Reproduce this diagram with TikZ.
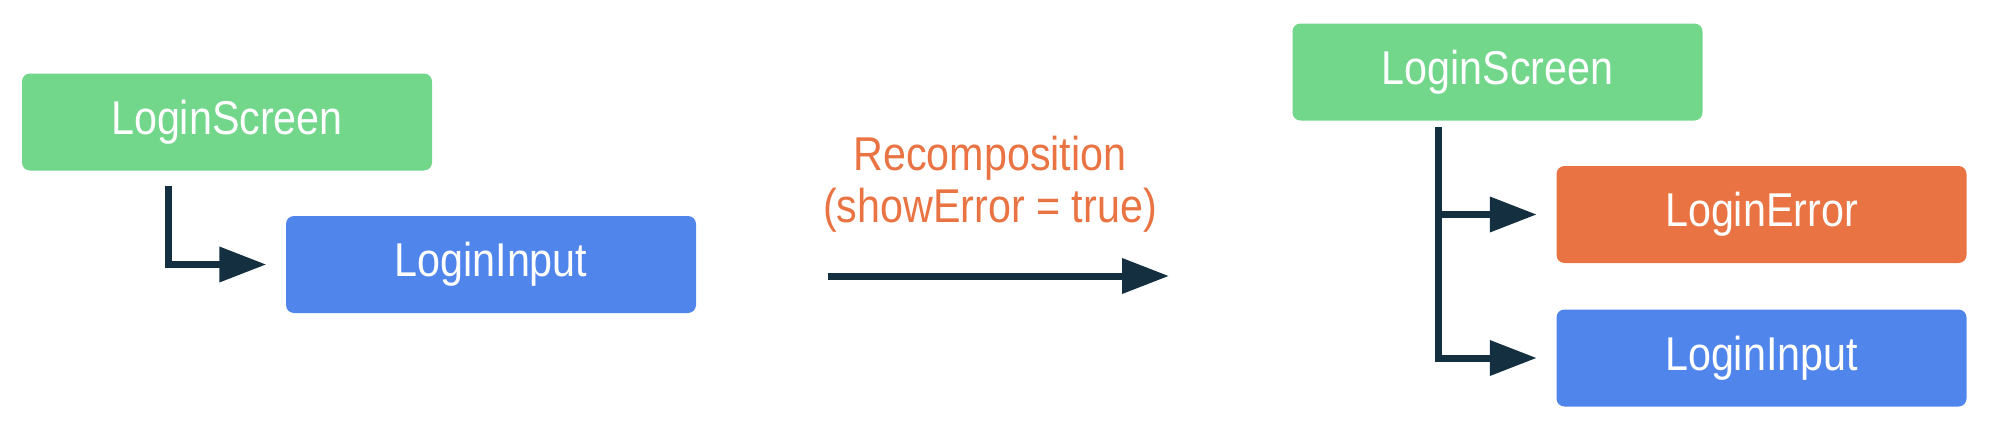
\documentclass[tikz,border=0pt]{standalone}
\usepackage{fontspec}
\setmainfont{Liberation Sans}[FakeStretch=0.87]
\usepackage{xcolor}
\usepackage{tikz}
\usetikzlibrary{positioning,calc,arrows.meta}

\definecolor{composeGreen}{HTML}{72D68B}
\definecolor{composeBlue}{HTML}{5085EC}
\definecolor{composeOrange}{HTML}{E97342}
\definecolor{composeDark}{HTML}{132F40}

\begin{document}
\begin{tikzpicture}[
    compbox/.style={rectangle, rounded corners=0.8mm, inner sep=0pt,
        minimum width=4.1cm, minimum height=0.97cm, text=white,
        font=\fontsize{13.5pt}{14.8pt}\selectfont},
    flow/.style={draw=composeDark, line width=0.7mm,
        -{Triangle[length=4.7mm, width=3.4mm]}}
]
    \useasboundingbox (0,0) rectangle (19.99,-4.33);

    % Before recomposition
    \node [compbox, fill=composeGreen] (screenA) at (2.27,-1.22) {LoginScreen};
    \node [compbox, fill=composeBlue] (inputA) at (4.91,-2.645) {LoginInput};
    \draw [flow] ([xshift=1.47cm, yshift=-1.5mm]screenA.south west)
        |- ([xshift=-1.9mm]inputA.west);

    % Recomposition
    \coordinate (recStart) at (8.28,-2.76);
    \coordinate (recEnd) at (11.69,-2.76);
    \draw [flow] (recStart) -- (recEnd);
    \node [align=center, text=composeOrange, inner sep=0pt,
        font=\fontsize{13.5pt}{14.8pt}\selectfont] (recLabel) at (9.9,-1.84)
        {Recomposition\\(showError = true)};

    % After recomposition
    \node [compbox, fill=composeGreen] (screenB) at (14.975,-0.72) {LoginScreen};
    \node [compbox, fill=composeOrange] (errorB) at (17.615,-2.145) {LoginError};
    \node [compbox, fill=composeBlue] (inputB) at (17.615,-3.58) {LoginInput};
    \coordinate (trunk) at ([xshift=1.47cm, yshift=-0.6mm]screenB.south west);
    \draw [flow] (trunk) |- ([xshift=-1.9mm]inputB.west);
    \draw [flow] (trunk |- errorB.west) -- ([xshift=-1.9mm]errorB.west);

\end{tikzpicture}
\end{document}
